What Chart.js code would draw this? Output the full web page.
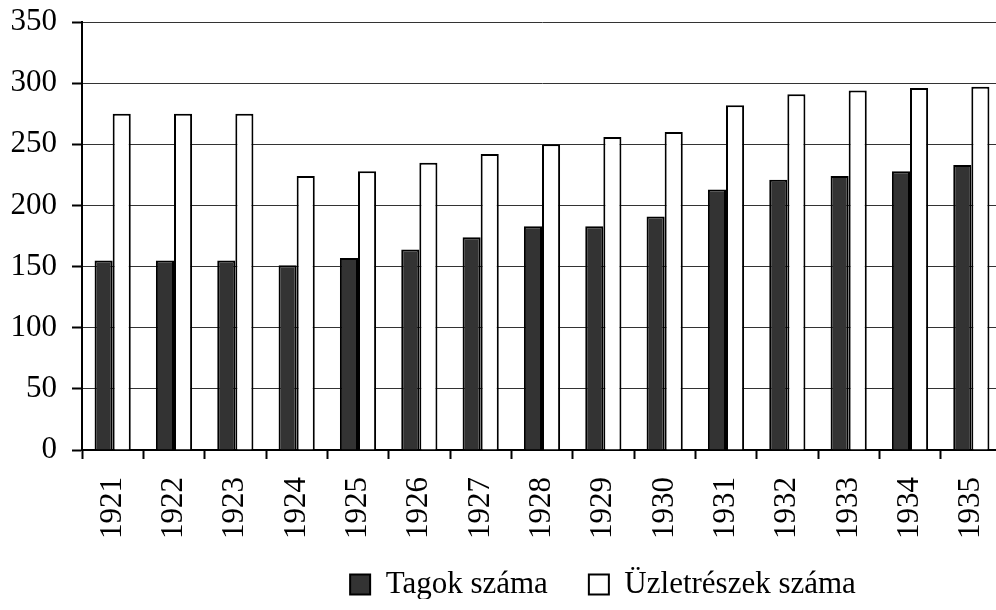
<!DOCTYPE html>
<html>
<head>
<meta charset="utf-8">
<script src="https://cdn.jsdelivr.net/npm/chart.js@4"></script>
<style>
  html, body { margin: 0; padding: 0; background: #fff; overflow: hidden; }
  /* the original plot runs a few pixels past the right edge of the picture */
  #wrap { width: 1002px; height: 610px; }
</style>
</head>
<body>
<div id="wrap"><canvas id="myChart"></canvas></div>
<script>
var years = ['1921', '1922', '1923', '1924', '1925', '1926', '1927', '1928',
    '1929', '1930', '1931', '1932', '1933', '1934', '1935'];
var tagok = [155, 155, 155, 151, 157, 164, 174, 183, 183, 191, 213, 221, 224, 228, 233];
var uzletreszek = [275, 275, 275, 224, 228, 235, 242, 250, 256, 260, 282, 291, 294, 296, 297];

Chart.defaults.font.family = '"Liberation Serif", "Times New Roman", serif';
Chart.defaults.font.size = 31;
Chart.defaults.color = '#000';

// the legend sits right of centre and a bit higher in the original
var shiftLegend = {
    id: 'shiftLegend',
    afterLayout: function (chart) {
        var lg = chart.legend;
        lg.left += 97;
        lg.right += 97;
        lg.top -= 11;
        lg.bottom -= 11;
    }
};

var ctx = document.getElementById('myChart').getContext('2d');
var myChart = new Chart(ctx, {
    type: 'bar',
    data: {
        labels: years,
        datasets: [{
            label: 'Tagok száma',
            data: tagok,
            backgroundColor: '#333333',
            borderColor: '#000',
            borderWidth: 2
        }, {
            label: 'Üzletrészek száma',
            data: uzletreszek,
            backgroundColor: '#ffffff',
            borderColor: '#000',
            borderWidth: 2
        }]
    },
    options: {
        responsive: true,
        maintainAspectRatio: false,
        animation: false,
        layout: { padding: { top: 22, right: 0, left: 10, bottom: 0 } },
        datasets: {
            bar: { categoryPercentage: 0.59, barPercentage: 1.0 }
        },
        plugins: {
            tooltip: { enabled: false },
            legend: {
                position: 'bottom',
                maxHeight: 71,
                labels: {
                    boxWidth: 20,
                    boxHeight: 20,
                    padding: 41,
                    font: { size: 31 }
                }
            }
        },
        scales: {
            x: {
                afterFit: function (scale) {
                    scale.paddingLeft = 0;
                    scale.paddingRight = 0;
                    scale.height = 89;
                },
                grid: {
                    display: true,
                    drawOnChartArea: false,
                    drawTicks: true,
                    tickLength: 9,
                    tickColor: '#000',
                    tickWidth: 2,
                    offset: true
                },
                border: { color: '#000', width: 2 },
                ticks: {
                    minRotation: 90,
                    maxRotation: 90,
                    padding: 18
                }
            },
            y: {
                min: 0,
                max: 350,
                afterFit: function (scale) {
                    scale.paddingTop = 0;
                    scale.width = 72;
                },
                grid: {
                    color: '#333',
                    lineWidth: 1,
                    tickLength: 10,
                    tickColor: '#000',
                    tickWidth: 2
                },
                border: { color: '#000', width: 2 },
                ticks: {
                    stepSize: 50,
                    padding: 15
                }
            }
        }
    },
    plugins: [shiftLegend]
});
</script>
</body>
</html>
